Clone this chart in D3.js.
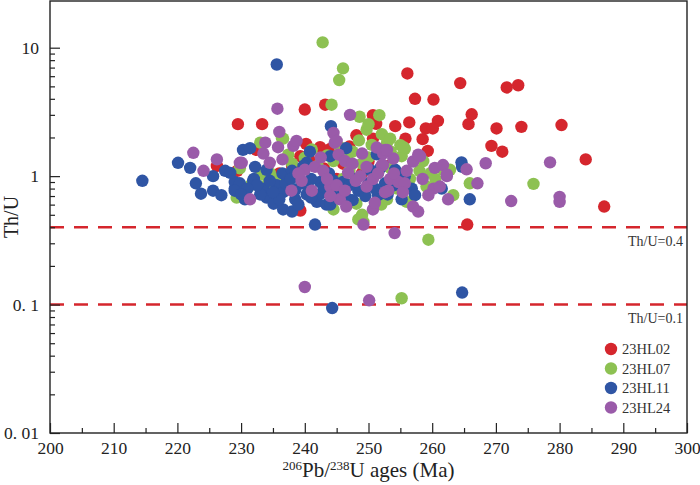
<!DOCTYPE html>
<html><head><meta charset="utf-8">
<script src="https://cdn.jsdelivr.net/npm/d3@7"></script>
<style>body{margin:0;background:#fff}svg{display:block;font-family:"Liberation Serif","Times New Roman",serif}</style>
</head><body><svg id="c" width="700" height="485"></svg>
<script>
const seriesNames = ["23HL02","23HL07","23HL11","23HL24"];
const seriesColors = ["#d5262d","#8dc152","#2f55a4","#9a5ba9"];
const xTickValues = [200,210,220,230,240,250,260,270,280,290,300];
const xMinorTicks = [205,215,225,235,245,255,265,275,285,295];
const yTickValues = [0.01,0.1,1,10];
const yTickLabels = ["0. 01","0. 1","1","10"];
const refLines = [0.4,0.1];
const refLabels = ["Th/U=0.4","Th/U=0.1"];

const hl02 = [[229.5,2.54],[233.3,2.54],[240,3.3],[243.2,3.6],[256.1,6.3],[264.4,5.3],[271.7,4.9],[273.5,5.1],[257.3,4.0],[260.2,3.95],[266.2,3.03],[265.7,2.54],[260.9,2.69],[259,2.35],[260.1,2.35],[256.4,2.62],[254.2,2.45],[255.8,1.96],[258.5,1.94],[259.3,1.57],[270.1,2.35],[274.0,2.42],[269.3,1.72],[271.0,1.55],[265.5,0.42],[280.3,2.5],[284.1,1.35],[287,0.58],[248.1,2.08],[250.7,2.98],[251.2,2.55],[250.7,1.96],[240.2,1.78],[242.4,1.68],[244,1.63],[229.4,1.1],[226.2,1.2],[232.4,1.6],[239.3,1.43],[239.3,0.54],[249,1.06],[238,1.2],[241,1.3],[243,1.15],[246,1.25],[250,1.3],[253,1.2],[236,1.05],[245,0.95],[247,1.7],[252,1.5]];
const hl07 = [[242.8,11.0],[246,6.9],[245.4,5.6],[244.2,3.6],[248.6,2.9],[251.7,2.98],[249.7,2.3],[236.4,1.98],[233,1.82],[236.6,1.96],[237.4,1.47],[234.5,1.06],[233.2,1.03],[241.1,1.61],[241.9,0.7],[248.1,0.61],[250,2.54],[252.1,2.12],[252.9,1.82],[251.5,1.06],[252.9,0.66],[246.6,1.43],[245.5,1.68],[229.8,1.15],[234,0.85],[229.3,0.68],[240,1.39],[244.5,1.31],[248.4,0.46],[249.2,0.44],[255.2,0.112],[259.4,0.32],[265.9,0.88],[275.9,0.87],[255,1.74],[255.7,1.63],[253.4,1.96],[255.2,1.43],[258.6,1.31],[262.8,1.12],[259.1,0.83],[263.3,0.71],[256,0.63],[252.6,0.66],[255.5,1.68],[259.8,1.06],[261.7,1.12],[231.5,0.85],[235.5,0.95],[238,1.25],[242,1.2],[243.5,1.45],[247,1.1],[249,1.25],[250,1.4],[253.5,1.15],[254.5,0.8],[256.5,0.95],[258,1.1],[260.5,0.95],[247.5,1.55],[248.5,1.9],[250.5,1.75],[253.5,1.55],[246,0.95],[252,0.6],[249,0.5],[244.5,0.55]];
const hl11 = [[214.5,0.92],[220.1,1.27],[222,1.16],[222.9,0.88],[223.7,0.73],[225.6,1.0],[225.6,0.77],[226.9,0.71],[227.5,1.1],[229,0.8],[229,0.9],[235.6,7.4],[241.6,0.42],[244.3,0.094],[264.7,0.124],[264.6,1.28],[264.7,1.18],[265.9,0.66],[244.1,2.45],[230.3,1.6],[231.4,1.65],[232.2,1.18],[229.8,0.88],[229,0.77],[230.6,0.66],[231.9,0.92],[233.5,0.8],[234,0.68],[235.1,0.61],[236.6,0.55],[238,0.53],[235.6,0.85],[236.6,0.75],[237.4,1.0],[238.5,0.66],[239.5,0.88],[240.3,0.72],[240.8,1.55],[240.3,1.27],[242.4,0.9],[241.9,0.63],[243.4,0.6],[244,1.43],[246.1,0.68],[246.8,0.66],[248.4,0.77],[250.2,1.12],[250,0.88],[251.5,0.71],[252.6,0.88],[251.3,1.48],[228.3,1.06],[254.2,1.12],[255.7,1.0],[251.8,1.15],[256.8,0.8],[255.2,0.66],[257.3,0.71],[261.5,0.8],[246.5,1.65],[232,0.95],[233,0.72],[234.5,0.92],[236,0.66],[237,0.88],[238.5,0.78],[239,0.6],[240.5,0.83],[241,0.95],[242.5,0.73],[243,0.82],[244.5,0.92],[245,0.75],[246,0.9],[247,0.85],[248,0.95],[249.5,0.7],[251,0.8],[253,0.72],[254,0.85],[236.5,1.05],[238,1.1],[234,1.12],[232.5,0.85],[231,0.8],[230,0.72],[237.8,0.95],[243.8,1.05],[239.8,1.2],[235,0.75],[241,0.68],[247.5,0.65],[244,0.6]];
const hl24 = [[222.5,1.52],[224.1,1.1],[226.2,1.35],[229.8,1.27],[235.7,3.35],[247.1,3.0],[244.5,2.17],[236,2.21],[240,0.137],[250.1,0.108],[254.1,0.36],[249.2,0.42],[265.4,1.13],[268.4,1.26],[267.1,0.88],[272.4,0.64],[278.5,1.28],[280,0.69],[280,0.63],[233.8,1.82],[233.5,1.5],[238.2,1.72],[235.8,1.68],[230.1,1.27],[234.5,1.27],[231.4,0.66],[237.9,0.77],[239.5,0.92],[241.1,0.77],[240,1.12],[241.6,1.18],[242.9,1.1],[244.7,1.82],[245.3,1.47],[246.3,1.31],[246.8,1.06],[244,0.83],[245,0.85],[245.5,0.66],[244,0.7],[246.3,0.77],[249,1.5],[249.7,1.18],[248.7,1.0],[249.7,0.83],[250.7,0.95],[252.3,1.22],[252.3,1.5],[253.1,0.77],[250.7,0.55],[238.7,1.88],[245,1.88],[252.6,1.6],[253.9,1.37],[252.1,1.22],[257,1.3],[258.1,1.43],[260.4,1.16],[261.7,1.22],[262.3,1.0],[253.4,0.95],[254.7,0.9],[255.7,0.88],[252.6,0.75],[255.4,0.75],[260.2,0.8],[261.2,0.83],[262.5,0.66],[257,0.58],[257.8,0.53],[259.4,0.71],[251.3,1.67],[252.9,1.6],[257.8,1.47],[262.3,1.03],[242.5,1.4],[247.5,1.25],[248,0.92],[251.5,1.05],[254,1.05],[256,1.1],[258.5,0.95],[243.5,0.95],[246.5,0.58],[239,1.05],[236.5,1.35],[251,0.62]];
const seriesData = [hl02, hl07, hl11, hl24];

const svg = d3.select("#c");
const L = 50, R = 687, T = 1, B = 433;
const x = d3.scaleLinear().domain([200,300]).range([L,R]);
const y = d3.scaleLog().domain([0.01,23.1]).range([B,T]);

// reference dashed lines
refLines.forEach((v,i)=>{
  svg.append("line").attr("x1",L).attr("x2",R).attr("y1",y(v)).attr("y2",y(v))
    .attr("stroke","#d5262d").attr("stroke-width",2.6).attr("stroke-dasharray","14,10");
  svg.append("text").attr("x",R-4).attr("y",y(v)+18.5).attr("text-anchor","end")
    .attr("font-size",14).attr("fill","#333").text(refLabels[i]);
});

// points
seriesData.forEach((arr,i)=>{
  svg.append("g").selectAll("circle").data(arr).join("circle")
    .attr("cx",d=>x(d[0])).attr("cy",d=>y(d[1])).attr("r",6.2)
    .attr("fill",seriesColors[i]);
});

// axes
const gx = svg.append("g").attr("transform",`translate(0,${B})`)
  .call(d3.axisBottom(x).tickValues(xTickValues).tickSize(-10).tickFormat(d3.format("d")));
const gxm = svg.append("g").attr("transform",`translate(0,${B})`)
  .call(d3.axisBottom(x).tickValues(xMinorTicks).tickSize(-5).tickFormat(""));
const yMinor = [];
[0.01,0.1,1].forEach(b=>{for(let k=2;k<=9;k++) yMinor.push(b*k);});
const gy = svg.append("g").attr("transform",`translate(${L},0)`)
  .call(d3.axisLeft(y).tickValues(yTickValues).tickSize(-10).tickFormat((d,i)=>yTickLabels[i]));
const gym = svg.append("g").attr("transform",`translate(${L},0)`)
  .call(d3.axisLeft(y).tickValues(yMinor).tickSize(-5).tickFormat(""));
[gx,gxm,gy,gym].forEach(g=>{
  g.select(".domain").remove();
  g.selectAll("line").attr("stroke","#222").attr("stroke-width",1.2);
  g.selectAll("text").attr("font-family","Liberation Serif, Times New Roman, serif").attr("font-size",17.5).attr("fill","#222");
});
gx.selectAll("text").attr("dy",null).attr("y",21);
gy.selectAll("text").attr("x",-11);

svg.append("rect").attr("x",L).attr("y",T).attr("width",R-L).attr("height",B-T)
  .attr("fill","none").attr("stroke","#222").attr("stroke-width",1.4);

// axis titles
svg.append("text").attr("transform",`translate(18,${(T+B)/2}) rotate(-90)`)
  .attr("text-anchor","middle").attr("font-size",20).attr("fill","#222").text("Th/U");
const xt = svg.append("text").attr("x",(L+R)/2).attr("y",477).attr("text-anchor","middle")
  .attr("font-size",21).attr("fill","#222");
xt.append("tspan").attr("font-size",13).attr("dy",-7).text("206");
xt.append("tspan").attr("dy",7).text("Pb/");
xt.append("tspan").attr("font-size",13).attr("dy",-7).text("238");
xt.append("tspan").attr("dy",7).text("U ages (Ma)");

// legend
seriesNames.forEach((n,i)=>{
  const ly = 349 + i*19.5;
  svg.append("circle").attr("cx",611).attr("cy",ly).attr("r",6.2).attr("fill",seriesColors[i]);
  svg.append("text").attr("x",622).attr("y",ly+5).attr("font-size",14.5).attr("fill","#333").text(n);
});
</script></body></html>
